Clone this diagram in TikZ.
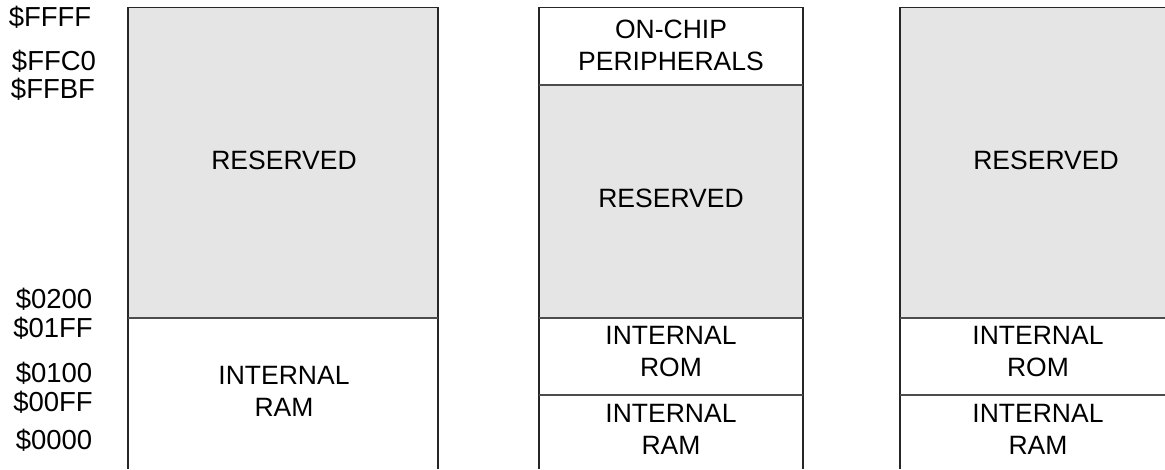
\documentclass[tikz,border=0pt]{standalone}
\usepackage{fontspec}
\setmainfont{Liberation Sans}
\usetikzlibrary{calc}
\tikzset{
	mapline/.style={line width=1.3pt, black!85},
	divline/.style={line width=1.3pt, black!70},
	rsvd/.style={fill=black!10},
	lbl/.style={align=center, font=\fontsize{26.5}{32}\selectfont, inner sep=0pt},
	addr/.style={font=\fontsize{27.5}{30}\selectfont, inner sep=0pt, text height=19pt, text depth=2pt}
}
\begin{document}
\begin{tikzpicture}[x=1pt,y=-1pt]
		\useasboundingbox (0,0) rectangle (1165,469);
		% addresses
		\node[addr] (aFFFF) at (50,18) {\$FFFF};
		\node[addr] (aFFC0) at (54,62) {\$FFC0};
		\node[addr] (aFFBF) at (53,90) {\$FFBF};
		\node[addr] (a0200) at (54,300) {\$0200};
		\node[addr] (a01FF) at (53,329) {\$01FF};
		\node[addr] (a0100) at (54,374) {\$0100};
		\node[addr] (a00FF) at (53,403) {\$00FF};
		\node[addr] (a0000) at (54,441) {\$0000};
		% first map
		\fill[rsvd] (128,7.5) rectangle (438,318);
		\draw[mapline] (128,469) -- (128,7.5) -- (438,7.5) -- (438,469);
		\draw[divline] (128,318) -- (438,318);
		\node[lbl] (resA) at (284,160) {RESERVED};
		\node[lbl] (ramA) at (284,391) {INTERNAL\\RAM};
		% second map
		\fill[rsvd] (539,85) rectangle (803,318);
		\draw[mapline] (539,469) -- (539,7.5) -- (803,7.5) -- (803,469);
		\foreach \y in {85,318,395}
			\draw[divline] (539,\y) -- (803,\y);
		\node[lbl] (perB) at (671,45) {ON-CHIP\\PERIPHERALS};
		\node[lbl] (resB) at (671,198) {RESERVED};
		\node[lbl] (romB) at (671,352) {INTERNAL\\ROM};
		\node[lbl] (ramB) at (671,429) {INTERNAL\\RAM};
		% third map
		\fill[rsvd] (900,7.5) rectangle (1165,318);
		\draw[mapline] (1165,7.5) -- (900,7.5) -- (900,469);
		\foreach \y in {318,395}
			\draw[divline] (900,\y) -- (1165,\y);
		\node[lbl] (resC) at (1046,160) {RESERVED};
		\node[lbl] (romC) at (1038,352) {INTERNAL\\ROM};
		\node[lbl] (ramC) at (1038,429) {INTERNAL\\RAM};
	\end{tikzpicture}
\end{document}
